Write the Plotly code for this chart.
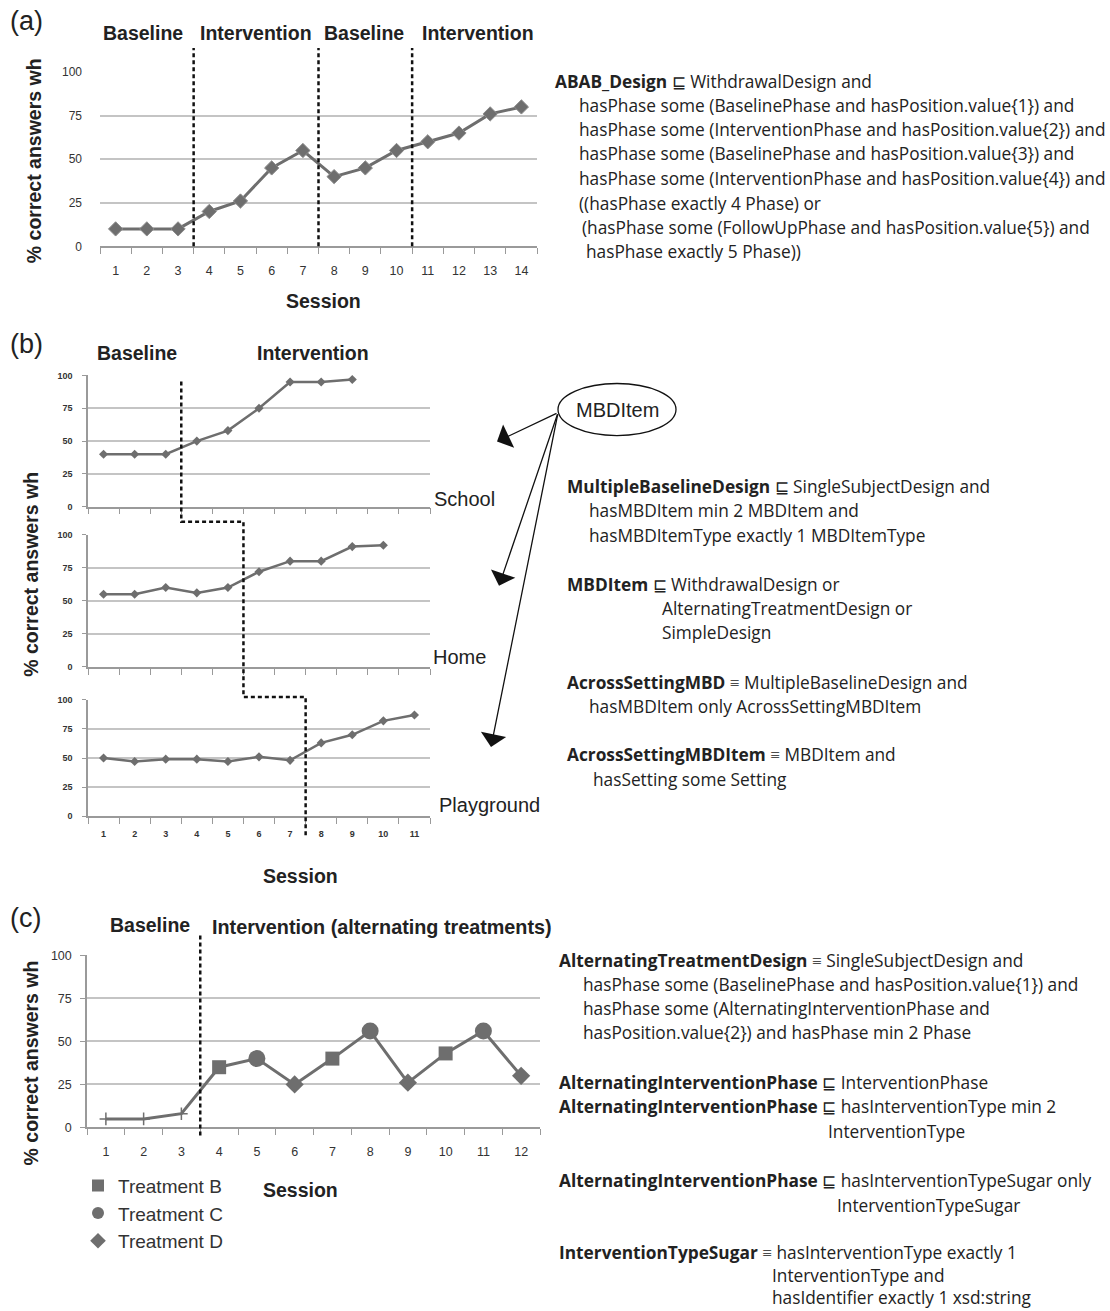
import plotly.graph_objects as go

W, H = 1110, 1311


def X(px):
    return px / W


def Y(py):
    # vertical pixel position (measured on the reference) -> paper fraction
    return 1 - ((py - 8.0) / 0.988) / H


# ---------------- data ----------------
yticks = [0, 25, 50, 75, 100]

# (a) ABAB design
sessions_a = list(range(1, 15))
correct_a = [10, 10, 10, 20, 26, 45, 55, 40, 45, 55, 60, 65, 76, 80]
phase_changes_a = [3.5, 7.5, 10.5]
phase_labels_a = ["Baseline", "Intervention", "Baseline", "Intervention"]

# (b) multiple baseline across settings
sessions_b = list(range(1, 12))
school = [40, 40, 40, 50, 58, 75, 95, 95, 97]
home = [55, 55, 60, 56, 60, 72, 80, 80, 91, 92]
playground = [50, 47, 49, 49, 47, 51, 48, 63, 70, 82, 87]
settings_b = ["School", "Home", "Playground"]
phase_changes_b = [3.5, 5.5, 7.5]

# (c) alternating treatments
sessions_c = list(range(1, 13))
correct_c = [5, 5, 8, 35, 40, 25, 40, 56, 26, 43, 56, 30]
condition_c = ["A", "A", "A", "B", "C", "D", "B", "C", "D", "B", "C", "D"]
phase_change_c = 3.5
treatments = {"B": ("Treatment B", "square", 14),
              "C": ("Treatment C", "circle", 17),
              "D": ("Treatment D", "diamond", 14)}

# ---------------- styles ----------------
LINE = "#6e6e6e"
GRID = "#c4c4c4"
AXIS = "#9a9a9a"
TXT = "#222222"
CH = "Liberation Sans"
DL = "Open Sans"

fig = go.Figure()

# (a)
fig.add_trace(go.Scatter(
    x=sessions_a, y=correct_a, mode="lines+markers", xaxis="x", yaxis="y",
    line=dict(color=LINE, width=3),
    marker=dict(symbol="diamond", size=11, color=LINE, line=dict(color="#8c8c8c", width=1)),
    showlegend=False, cliponaxis=False, hoverinfo="skip"))

# (b)
for i, series in enumerate([school, home, playground]):
    fig.add_trace(go.Scatter(
        x=sessions_b[:len(series)], y=series, mode="lines+markers",
        xaxis=f"x{i + 2}", yaxis=f"y{i + 2}",
        line=dict(color=LINE, width=2.5),
        marker=dict(symbol="diamond", size=7, color=LINE),
        showlegend=False, cliponaxis=False, hoverinfo="skip"))

# (c)
fig.add_trace(go.Scatter(
    x=sessions_c, y=correct_c, mode="lines", xaxis="x5", yaxis="y5",
    line=dict(color=LINE, width=3), showlegend=False, cliponaxis=False,
    hoverinfo="skip"))
base_x = [s for s, c in zip(sessions_c, condition_c) if c == "A"]
base_y = [v for v, c in zip(correct_c, condition_c) if c == "A"]
fig.add_trace(go.Scatter(
    x=base_x, y=base_y, mode="markers", xaxis="x5", yaxis="y5",
    marker=dict(symbol="cross-thin", size=9, color=LINE, line=dict(color=LINE, width=1.5)),
    showlegend=False, cliponaxis=False, hoverinfo="skip"))
for key, (name, sym, size) in treatments.items():
    fig.add_trace(go.Scatter(
        x=[s for s, c in zip(sessions_c, condition_c) if c == key],
        y=[v for v, c in zip(correct_c, condition_c) if c == key],
        mode="markers", name=name, legendgroup=key, xaxis="x5", yaxis="y5",
        marker=dict(symbol=sym, size=size, color=LINE),
        cliponaxis=False, hoverinfo="skip"))


def xax(dom, sessions, show_labels=True, size=12, bold=False, standoff=10):
    return dict(
        domain=[X(dom[0]), X(dom[1])], range=[sessions[0] - 0.5, sessions[-1] + 0.5],
        tickmode="array", tickvals=sessions, showticklabels=show_labels, ticks="",
        ticklabelstandoff=standoff,
        tickfont=dict(size=size, family=CH, color="#333", weight="bold" if bold else "normal"),
        showgrid=False, zeroline=False, showline=True, linecolor=AXIS, linewidth=1.5,
        minor=dict(tickmode="array", tickvals=[s - 0.5 for s in sessions] + [sessions[-1] + 0.5],
                   ticks="outside", ticklen=6, tickcolor=AXIS, tickwidth=1.2, showgrid=False),
        fixedrange=True)


def yax(dom, anchor, size=11, bold=False, showline=False, ticklen=0, standoff=10):
    return dict(
        domain=[Y(dom[0]), Y(dom[1])], range=[0, 100], anchor=anchor,
        tickmode="array", tickvals=yticks,
        ticks="outside" if ticklen else "", ticklen=ticklen, tickcolor=AXIS,
        ticklabelstandoff=standoff,
        tickfont=dict(size=size, family=CH, color="#333", weight="bold" if bold else "normal"),
        showgrid=True, gridcolor=GRID, gridwidth=2, zeroline=False,
        showline=showline, linecolor=AXIS, linewidth=1.5, fixedrange=True)


layout = dict(
    width=W, height=H, margin=dict(l=0, r=0, t=0, b=0), autosize=False,
    paper_bgcolor="white", plot_bgcolor="rgba(0,0,0,0)",
    xaxis=dict(xax((100, 537), sessions_a, size=12.5, standoff=12), anchor="y"),
    yaxis=yax((247, 73), "x", size=12, standoff=17),
    xaxis2=dict(xax((88, 430), sessions_b, show_labels=False), anchor="y2"),
    yaxis2=yax((507, 376), "x2", size=9, bold=True, showline=True, ticklen=4, standoff=8),
    xaxis3=dict(xax((88, 430), sessions_b, show_labels=False), anchor="y3"),
    yaxis3=yax((667, 535), "x3", size=9, bold=True, showline=True, ticklen=4, standoff=8),
    xaxis4=dict(xax((88, 430), sessions_b, size=9, bold=True, standoff=8), anchor="y4"),
    yaxis4=yax((816, 700), "x4", size=9, bold=True, showline=True, ticklen=4, standoff=8),
    xaxis5=dict(xax((87, 540), sessions_c, size=12.5, standoff=12), anchor="y5"),
    yaxis5=yax((1127, 955), "x5", size=12.5, showline=True, ticklen=5, standoff=6),
    legend=dict(x=X(78), y=Y(1166), xanchor="left", yanchor="top",
                font=dict(size=19, family=CH, color="#333"), itemsizing="constant",
                bgcolor="rgba(0,0,0,0)", tracegroupgap=0, traceorder="grouped"),
    showlegend=True,
)
fig.update_layout(layout)

DASH = "4px,3px"
shapes = []
# (a) phase change lines
for pc in phase_changes_a:
    shapes.append(dict(type="line", xref="x", yref="paper", x0=pc, x1=pc,
                       y0=Y(247), y1=Y(49), line=dict(color="#111", width=2.5, dash=DASH)))
# (b) staggered phase change line
p1, p2, p3 = phase_changes_b
path = (f"M {p1},{Y(382)} L {p1},{Y(522)} L {p2},{Y(522)} L {p2},{Y(697)} "
        f"L {p3},{Y(697)} L {p3},{Y(838)}")
shapes.append(dict(type="path", xref="x4", yref="paper", path=path,
                   line=dict(color="#111", width=2.5, dash=DASH)))
# (c) phase change line
shapes.append(dict(type="line", xref="x5", yref="paper", x0=phase_change_c, x1=phase_change_c,
                   y0=Y(1135), y1=Y(933), line=dict(color="#111", width=2.5, dash=DASH)))
# MBDItem ellipse
shapes.append(dict(type="circle", xref="paper", yref="paper",
                   x0=X(558), x1=X(676), y0=Y(436), y1=Y(384),
                   line=dict(color="#111", width=1.3)))
fig.update_layout(shapes=shapes)

ann = []


def txt(px, py, text, size=15, family=DL, anchor="left", color=TXT, angle=0, bold=False):
    ann.append(dict(x=X(px), y=Y(py), xref="paper", yref="paper", text=text,
                    showarrow=False, xanchor=anchor, yanchor="middle", textangle=angle,
                    font=dict(size=size, family=family, color=color,
                              weight="bold" if bold else "normal")))


HS = 19.5  # header size

# panel letters
txt(8, 22, "(a)", size=27, family=CH)
txt(8, 345, "(b)", size=27, family=CH)
txt(8, 918, "(c)", size=27, family=CH)

# (a) labels
for cx, lab in zip([143, 256, 364, 478], phase_labels_a):
    txt(cx, 34, lab, size=HS, family=CH, anchor="center", bold=True)
txt(323, 302, "Session", size=HS, family=CH, anchor="center", bold=True)
txt(34, 162, "% correct answers wh", size=19.5, family=CH, anchor="center", angle=-90, bold=True)

# (b) labels
txt(137, 354, "Baseline", size=HS, family=CH, anchor="center", bold=True)
txt(313, 354, "Intervention", size=HS, family=CH, anchor="center", bold=True)
for (px, py), lab in zip([(432, 499), (431, 657), (437, 805)], settings_b):
    txt(px, py, lab, size=20, family=CH)
txt(300, 876, "Session", size=HS, family=CH, anchor="center", bold=True)
txt(31, 575, "% correct answers wh", size=19.5, family=CH, anchor="center", angle=-90, bold=True)
txt(617, 410, "MBDItem", size=20, family=CH, anchor="center")

# (c) labels
txt(150, 925, "Baseline", size=HS, family=CH, anchor="center", bold=True)
txt(210, 927, "Intervention (alternating treatments)", size=19.8, family=CH, bold=True)
txt(300, 1189, "Session", size=HS, family=CH, anchor="center", bold=True)
txt(31, 1063, "% correct answers wh", size=19.5, family=CH, anchor="center", angle=-90, bold=True)

# arrows from MBDItem
for hx, hy in [(497, 442), (499, 586), (491, 747)]:
    ann.append(dict(x=X(hx), y=Y(hy), xref="paper", yref="paper", text="",
                    showarrow=True, ax=558 - hx, ay=413 - hy, axref="pixel", ayref="pixel",
                    arrowhead=1, arrowsize=3.3, arrowwidth=1.3, arrowcolor="#111"))

# description-logic text
dl_lines = [
    (553, 82, "<b>ABAB_Design</b> ⊑ WithdrawalDesign and"),
    (577, 106, "hasPhase some (BaselinePhase and hasPosition.value{1}) and"),
    (577, 130, "hasPhase some (InterventionPhase and hasPosition.value{2}) and"),
    (577, 154, "hasPhase some (BaselinePhase and hasPosition.value{3}) and"),
    (577, 179, "hasPhase some (InterventionPhase and hasPosition.value{4}) and"),
    (577, 204, "((hasPhase exactly 4 Phase) or"),
    (580, 228, "(hasPhase some (FollowUpPhase and hasPosition.value{5}) and"),
    (584, 252, "hasPhase exactly 5 Phase))"),
    (565, 487, "<b>MultipleBaselineDesign</b> ⊑ SingleSubjectDesign and"),
    (587, 511, "hasMBDItem min 2 MBDItem and"),
    (587, 536, "hasMBDItemType exactly 1 MBDItemType"),
    (565, 585, "<b>MBDItem</b> ⊑ WithdrawalDesign or"),
    (660, 609, "AlternatingTreatmentDesign or"),
    (660, 633, "SimpleDesign"),
    (565, 683, "<b>AcrossSettingMBD</b> ≡ MultipleBaselineDesign and"),
    (587, 707, "hasMBDItem only AcrossSettingMBDItem"),
    (565, 755, "<b>AcrossSettingMBDItem</b> ≡ MBDItem and"),
    (591, 779, "hasSetting some Setting"),
    (557, 960, "<b>AlternatingTreatmentDesign</b> ≡ SingleSubjectDesign and"),
    (581, 984, "hasPhase some (BaselinePhase and hasPosition.value{1}) and"),
    (581, 1008, "hasPhase some (AlternatingInterventionPhase and"),
    (581, 1032, "hasPosition.value{2}) and hasPhase min 2 Phase"),
    (557, 1082, "<b>AlternatingInterventionPhase</b> ⊑ InterventionPhase"),
    (557, 1106, "<b>AlternatingInterventionPhase</b> ⊑ hasInterventionType min 2"),
    (826, 1131, "InterventionType"),
    (557, 1180, "<b>AlternatingInterventionPhase</b> ⊑ hasInterventionTypeSugar only"),
    (835, 1205, "InterventionTypeSugar"),
    (557, 1252, "<b>InterventionTypeSugar</b> ≡ hasInterventionType exactly 1"),
    (770, 1275, "InterventionType and"),
    (770, 1297, "hasIdentifier exactly 1 xsd:string"),
]
for px, py, t in dl_lines:
    txt(px, py, t, size=17.3, family=DL)

fig.update_layout(annotations=ann)

fig.write_html("out.html", config={"displayModeBar": False},
               post_script="document.body.style.margin='0';document.body.style.overflow='hidden';")
